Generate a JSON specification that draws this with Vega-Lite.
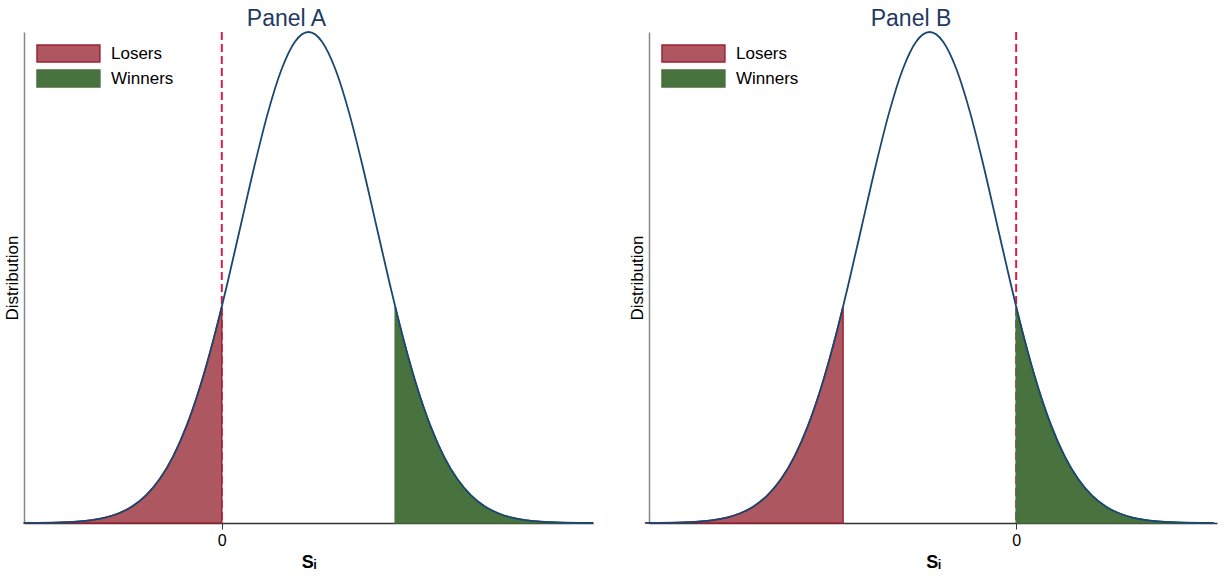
{
  "$schema": "https://vega.github.io/schema/vega-lite/v6.json",
  "background": "white",
  "padding": {"left": 3, "top": 8, "right": 6, "bottom": 2},
  "config": {
    "view": {"stroke": null},
    "font": "Liberation Sans",
    "axis": {"grid": false},
    "title": {"font": "Liberation Sans"}
  },
  "datasets": {
    "curve": [
      {"xa": -2.92, "xb": -5.48, "y": 0.000147, "group": "Losers"},
      {"xa": -2.72, "xb": -5.28, "y": 0.000335, "group": "Losers"},
      {"xa": -2.52, "xb": -5.08, "y": 0.00073, "group": "Losers"},
      {"xa": -2.32, "xb": -4.88, "y": 0.00153, "group": "Losers"},
      {"xa": -2.12, "xb": -4.68, "y": 0.00309, "group": "Losers"},
      {"xa": -1.92, "xb": -4.48, "y": 0.00598, "group": "Losers"},
      {"xa": -1.72, "xb": -4.28, "y": 0.0111, "group": "Losers"},
      {"xa": -1.52, "xb": -4.08, "y": 0.0198, "group": "Losers"},
      {"xa": -1.32, "xb": -3.88, "y": 0.0340, "group": "Losers"},
      {"xa": -1.12, "xb": -3.68, "y": 0.0561, "group": "Losers"},
      {"xa": -0.92, "xb": -3.48, "y": 0.0889, "group": "Losers"},
      {"xa": -0.72, "xb": -3.28, "y": 0.1353, "group": "Losers"},
      {"xa": -0.52, "xb": -3.08, "y": 0.1979, "group": "Losers"},
      {"xa": -0.32, "xb": -2.88, "y": 0.2780, "group": "Losers"},
      {"xa": -0.12, "xb": -2.68, "y": 0.3753, "group": "Losers"},
      {"xa": 0.0, "xb": -2.56, "y": 0.4408, "group": "Losers"},
      {"xa": 0.08, "xb": -2.48, "y": 0.4868, "group": "none"},
      {"xa": 0.28, "xb": -2.28, "y": 0.6065, "group": "none"},
      {"xa": 0.48, "xb": -2.08, "y": 0.7261, "group": "none"},
      {"xa": 0.68, "xb": -1.88, "y": 0.8353, "group": "none"},
      {"xa": 0.88, "xb": -1.68, "y": 0.9231, "group": "none"},
      {"xa": 1.08, "xb": -1.48, "y": 0.9802, "group": "none"},
      {"xa": 1.28, "xb": -1.28, "y": 1.0, "group": "none"},
      {"xa": 1.48, "xb": -1.08, "y": 0.9802, "group": "none"},
      {"xa": 1.68, "xb": -0.88, "y": 0.9231, "group": "none"},
      {"xa": 1.88, "xb": -0.68, "y": 0.8353, "group": "none"},
      {"xa": 2.08, "xb": -0.48, "y": 0.7261, "group": "none"},
      {"xa": 2.28, "xb": -0.28, "y": 0.6065, "group": "none"},
      {"xa": 2.48, "xb": -0.08, "y": 0.4868, "group": "none"},
      {"xa": 2.56, "xb": 0.0, "y": 0.4408, "group": "Winners"},
      {"xa": 2.68, "xb": 0.12, "y": 0.3753, "group": "Winners"},
      {"xa": 2.88, "xb": 0.32, "y": 0.2780, "group": "Winners"},
      {"xa": 3.08, "xb": 0.52, "y": 0.1979, "group": "Winners"},
      {"xa": 3.28, "xb": 0.72, "y": 0.1353, "group": "Winners"},
      {"xa": 3.48, "xb": 0.92, "y": 0.0889, "group": "Winners"},
      {"xa": 3.68, "xb": 1.12, "y": 0.0561, "group": "Winners"},
      {"xa": 3.88, "xb": 1.32, "y": 0.0340, "group": "Winners"},
      {"xa": 4.08, "xb": 1.52, "y": 0.0198, "group": "Winners"},
      {"xa": 4.28, "xb": 1.72, "y": 0.0111, "group": "Winners"},
      {"xa": 4.48, "xb": 1.92, "y": 0.00598, "group": "Winners"},
      {"xa": 4.68, "xb": 2.12, "y": 0.00309, "group": "Winners"},
      {"xa": 4.88, "xb": 2.32, "y": 0.00153, "group": "Winners"},
      {"xa": 5.08, "xb": 2.52, "y": 0.00073, "group": "Winners"},
      {"xa": 5.28, "xb": 2.72, "y": 0.000335, "group": "Winners"},
      {"xa": 5.48, "xb": 2.92, "y": 0.000147, "group": "Winners"}
    ]
  },
  "spacing": 31,
  "resolve": {
    "scale": {"x": "independent", "y": "independent"},
    "legend": {"fill": "independent", "stroke": "independent"}
  },
  "hconcat": [
    {
      "width": 569,
      "height": 491,
      "title": {"text": "Panel A", "fontSize": 23, "fontWeight": "normal", "color": "#1e3a5f", "offset": -3, "dx": -22},
      "data": {"name": "curve"},
      "encoding": {
        "x": {
          "field": "xa", "type": "quantitative",
          "scale": {"domain": [-2.92, 5.48], "nice": false, "zero": false},
          "axis": {"values": [0], "tickSize": 6, "tickColor": "#333333", "domainColor": "#333333", "domainWidth": 1.5, "labelFontSize": 16, "labelColor": "#000000", "labelPadding": 3, "title": "Sᵢ", "titleFontSize": 18, "titleFontWeight": "bold", "titleColor": "#000000", "titlePadding": 5}
        }
      },
      "layer": [
        {
          "data": {"values": [{"xa": 0}]},
          "mark": {"type": "rule", "color": "#d81e4a", "strokeDash": [8, 4], "strokeWidth": 2},
          "encoding": {}
        },
        {
          "transform": [{"filter": "datum.group != 'none'"}],
          "mark": {"type": "area", "interpolate": "monotone", "strokeWidth": 1.5, "opacity": 1},
          "encoding": {
            "y": {"field": "y", "type": "quantitative", "stack": null, "scale": {"domain": [0, 1], "nice": false}, "axis": {"title": "Distribution", "labels": false, "ticks": false, "domainColor": "#888888", "domainWidth": 1.5, "titleFontSize": 17, "titleFontWeight": "normal", "titleColor": "#000000", "titlePadding": 3}},
            "fill": {"field": "group", "type": "nominal", "scale": {"domain": ["Losers", "Winners"], "range": ["#ad5761", "#48733f"]}, "legend": {"title": null, "orient": "top-left", "offset": 12, "padding": 0, "symbolType": "M-1,-1H6.4V1H-1Z", "symbolSize": 289, "symbolStrokeWidth": 1.5, "symbolOpacity": 1, "labelFontSize": 17, "labelOffset": 56, "rowPadding": 2, "labelColor": "#000000"}},
            "stroke": {"field": "group", "type": "nominal", "scale": {"domain": ["Losers", "Winners"], "range": ["#9e2336", "#4a6f3e"]}, "legend": {"title": null, "orient": "top-left", "offset": 12, "padding": 0, "symbolType": "M-1,-1H6.4V1H-1Z", "symbolSize": 289, "symbolStrokeWidth": 1.5, "symbolOpacity": 1, "labelFontSize": 17, "labelOffset": 56, "rowPadding": 2, "labelColor": "#000000"}}
          }
        },
        {
          "mark": {"type": "line", "interpolate": "monotone", "color": "#1a476f", "strokeWidth": 1.8},
          "encoding": {
            "y": {"field": "y", "type": "quantitative", "scale": {"domain": [0, 1], "nice": false}, "axis": {"title": "Distribution", "labels": false, "ticks": false, "domainColor": "#888888", "domainWidth": 1.5, "titleFontSize": 17, "titleFontWeight": "normal", "titleColor": "#000000", "titlePadding": 3}}
          }
        }
      ]
    },
    {
      "width": 568,
      "height": 491,
      "title": {"text": "Panel B", "fontSize": 23, "fontWeight": "normal", "color": "#1e3a5f", "offset": -3, "dx": -22},
      "data": {"name": "curve"},
      "encoding": {
        "x": {
          "field": "xb", "type": "quantitative",
          "scale": {"domain": [-5.43, 2.97], "nice": false, "zero": false},
          "axis": {"values": [0], "tickSize": 6, "tickColor": "#333333", "domainColor": "#333333", "domainWidth": 1.5, "labelFontSize": 16, "labelColor": "#000000", "labelPadding": 3, "title": "Sᵢ", "titleFontSize": 18, "titleFontWeight": "bold", "titleColor": "#000000", "titlePadding": 5}
        }
      },
      "layer": [
        {
          "data": {"values": [{"xb": 0}]},
          "mark": {"type": "rule", "color": "#d81e4a", "strokeDash": [8, 4], "strokeWidth": 2},
          "encoding": {}
        },
        {
          "transform": [{"filter": "datum.group != 'none'"}],
          "mark": {"type": "area", "interpolate": "monotone", "strokeWidth": 1.5, "opacity": 1},
          "encoding": {
            "y": {"field": "y", "type": "quantitative", "stack": null, "scale": {"domain": [0, 1], "nice": false}, "axis": {"title": "Distribution", "labels": false, "ticks": false, "domainColor": "#888888", "domainWidth": 1.5, "titleFontSize": 17, "titleFontWeight": "normal", "titleColor": "#000000", "titlePadding": 3}},
            "fill": {"field": "group", "type": "nominal", "scale": {"domain": ["Losers", "Winners"], "range": ["#ad5761", "#48733f"]}, "legend": {"title": null, "orient": "top-left", "offset": 12, "padding": 0, "symbolType": "M-1,-1H6.4V1H-1Z", "symbolSize": 289, "symbolStrokeWidth": 1.5, "symbolOpacity": 1, "labelFontSize": 17, "labelOffset": 56, "rowPadding": 2, "labelColor": "#000000"}},
            "stroke": {"field": "group", "type": "nominal", "scale": {"domain": ["Losers", "Winners"], "range": ["#9e2336", "#4a6f3e"]}, "legend": {"title": null, "orient": "top-left", "offset": 12, "padding": 0, "symbolType": "M-1,-1H6.4V1H-1Z", "symbolSize": 289, "symbolStrokeWidth": 1.5, "symbolOpacity": 1, "labelFontSize": 17, "labelOffset": 56, "rowPadding": 2, "labelColor": "#000000"}}
          }
        },
        {
          "mark": {"type": "line", "interpolate": "monotone", "color": "#1a476f", "strokeWidth": 1.8},
          "encoding": {
            "y": {"field": "y", "type": "quantitative", "scale": {"domain": [0, 1], "nice": false}, "axis": {"title": "Distribution", "labels": false, "ticks": false, "domainColor": "#888888", "domainWidth": 1.5, "titleFontSize": 17, "titleFontWeight": "normal", "titleColor": "#000000", "titlePadding": 3}}
          }
        }
      ]
    }
  ]
}
